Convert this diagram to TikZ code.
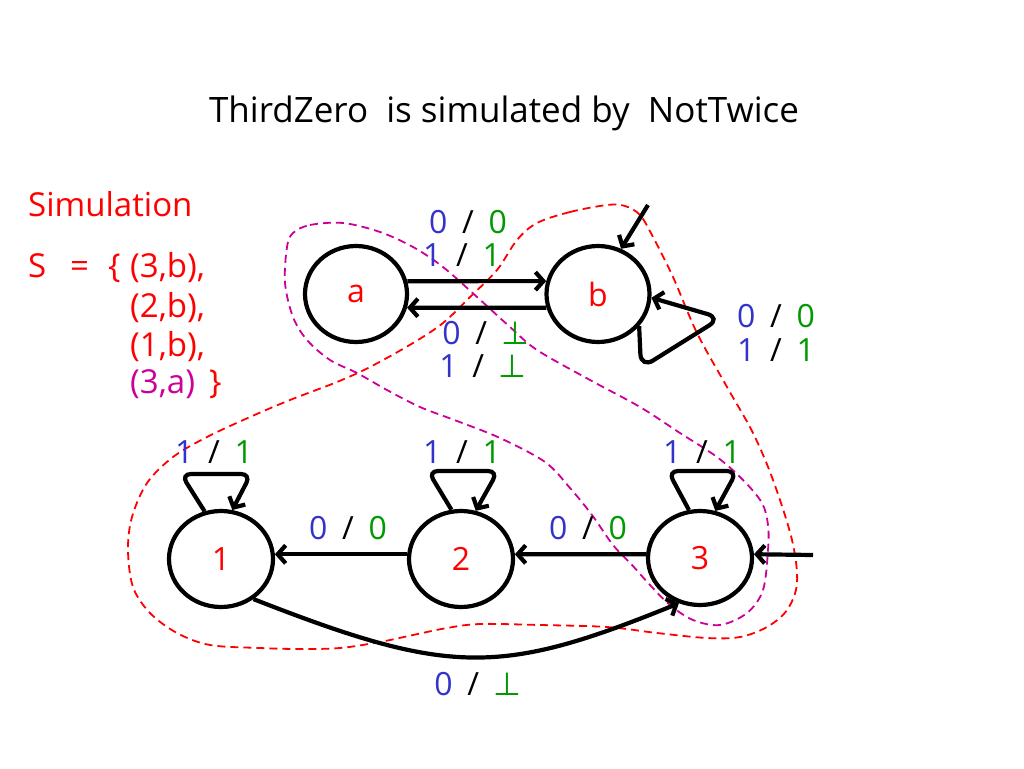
\documentclass[tikz,border=0pt]{standalone}
\usepackage{fontspec}
\setmainfont{Open Sans}
\newfontfamily\symfnt{DejaVu Sans}
\usetikzlibrary{arrows.meta,shapes.geometric}
\definecolor{cblue}{RGB}{51,51,204}
\definecolor{cgreen}{RGB}{0,153,0}
\definecolor{cred}{RGB}{255,0,0}
\definecolor{cpurple}{RGB}{204,0,153}
\newcommand{\lab}[2]{\textcolor{cblue}{#1}\kern0.2em{} / \kern0.2em\textcolor{cgreen}{#2}}
\newcommand{\fls}{{\symfnt ⊥}}
\begin{document}
\begin{tikzpicture}[x=1pt,y=-1pt,
 state/.style={draw,ellipse,line width=4.2pt,inner sep=0pt,text=cred,font=\fontsize{32}{38}\selectfont},
 arr/.style={line width=4.2pt,-{Straight Barb[length=8pt,width=18pt]}},
 lbl/.style={font=\fontsize{32}{38}\selectfont,inner sep=0pt},
 txt/.style={font=\fontsize{33}{40}\selectfont,inner sep=0pt,anchor=base west,text=cred},
 reddash/.style={draw=cred,line width=1.8pt,dash pattern=on 8pt off 5pt},
 purdash/.style={draw=cpurple,line width=1.8pt,dash pattern=on 8pt off 5pt}]
\useasboundingbox (0,0) rectangle (1024,768);
\fill[white] (0,0) rectangle (1024,768);

% dashed regions
\draw[reddash] plot[smooth cycle,tension=0.55] coordinates {
(537,223) (570,212) (607,205) (625,206) (640,215) (653,237) (673,277) (697,333)
(727,387) (753,433) (773,480) (792,540) (797,583) (787,610) (767,627) (740,637)
(707,638) (657,633) (607,627) (540,625) (480,624) (447,628) (413,635) (380,642)
(340,648) (300,649) (260,648) (210,645) (177,633) (150,613) (133,587) (128,550)
(132,517) (147,483) (173,457) (207,437) (250,417) (290,400) (337,382) (370,367)
(413,343) (443,323) (470,297) (497,270) (517,240)};
\draw[purdash] plot[smooth cycle,tension=0.55] coordinates {
(293,233) (310,225) (343,223) (380,232) (413,247) (443,267) (477,297) (510,327)
(537,350) (590,380) (640,407) (680,433) (717,457) (743,480) (762,503) (768,525)
(768,550) (763,590) (747,613) (720,625) (693,620) (670,605) (650,585) (632,565)
(613,545) (592,515) (570,488) (545,462) (500,438) (457,421) (420,407) (387,390)
(357,373) (330,360) (307,340) (293,317) (285,283) (287,247)};

% title
\node[font=\fontsize{35}{42}\selectfont,anchor=base,inner sep=0pt] (title) at (504,122)
  {ThirdZero\ \ is simulated by\ \ NotTwice};

% simulation text
\node[txt] (sim) at (28,216) {Simulation};
\node[txt] (s) at (28,277) {S};
\node[txt] (eq) at (70,277) {=};
\node[txt] (lb) at (108,277) {\{};
\node[txt] (p1) at (130,277) {(3,b),};
\node[txt] (p2) at (130,317) {(2,b),};
\node[txt] (p3) at (130,356) {(1,b),};
\node[txt,text=cpurple] (p4) at (130,393) {(3,a)};
\node[txt] (rb) at (209,393) {\}};

% states
\node[state,minimum width=102pt,minimum height=96pt] (a) at (356,294) {a};
\node[state,minimum width=103pt,minimum height=96pt] (b) at (598,294) {b};
\node[state,minimum width=104pt,minimum height=96pt] (n1) at (221,559) {1};
\node[state,minimum width=104pt,minimum height=96pt] (n2) at (461,559) {2};
\node[state,minimum width=104pt,minimum height=94pt] (n3) at (700,558) {3};

% initial markers
\coordinate (ib) at (648,205);
\coordinate (i3) at (813,555);
\draw[arr] (ib) -- (b.63);
\draw[arr] (i3) -- (n3.4);

% transitions
\draw[arr] (a.14) -- (b.166);
\draw[arr] (b.195) -- (a.345);
\draw[arr,rounded corners=14pt] (b.-38) -- (641,368) -- (721,318) -- (b.-4);
\draw[arr,rounded corners=10pt] (n1.109) -- (181,474) -- (251,474) -- (n1.77);
\draw[arr,rounded corners=10pt] (n2.101) -- (428,471) -- (498,471) -- (n2.73);
\draw[arr,rounded corners=10pt] (n3.103) -- (668,471) -- (737,471) -- (n3.72);
\draw[arr] (n2.175) -- (n1.5);
\draw[arr] (n3.176) -- (n2.5);
\draw[arr] (n1.-51) .. controls (450,676) and (500,676) .. (n3.-115);

% labels
\node[lbl] (l1) at (468,222) {\lab{0}{0}};
\node[lbl] (l2) at (462,255) {\lab{1}{1}};
\node[lbl] (l3) at (486,333) {\lab{0}{\fls}};
\node[lbl] (l4) at (483,366) {\lab{1}{\fls}};
\node[lbl,anchor=west] (l5) at (737,316) {\lab{0}{0}};
\node[lbl,anchor=west] (l6) at (737,350) {\lab{1}{1}};
\node[lbl] (l7) at (214,452) {\lab{1}{1}};
\node[lbl] (l8) at (462,452) {\lab{1}{1}};
\node[lbl] (l9) at (702,452) {\lab{1}{1}};
\node[lbl] (l10) at (348,528) {\lab{0}{0}};
\node[lbl] (l11) at (588,528) {\lab{0}{0}};
\node[lbl] (l12) at (478,684) {\lab{0}{\fls}};
\end{tikzpicture}
\end{document}
